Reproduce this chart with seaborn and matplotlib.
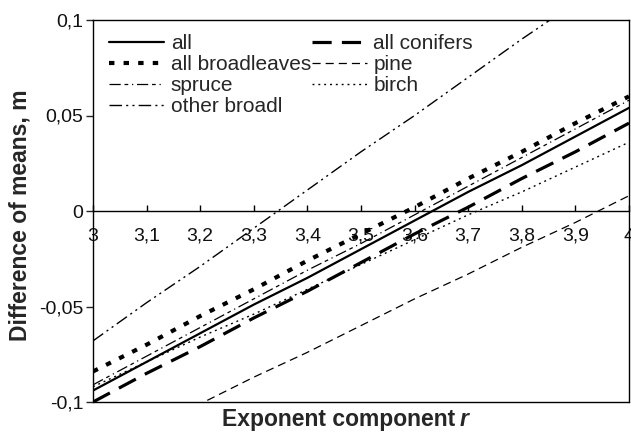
import numpy as np
import pandas as pd
import matplotlib
matplotlib.use("Agg")
import matplotlib.pyplot as plt
import seaborn as sns

sns.set_theme(style="white")
plt.rcParams['font.family'] = ['Liberation Sans', 'DejaVu Sans']

r_values = [3.0, 3.1, 3.2, 3.3, 3.4, 3.5, 3.6, 3.7, 3.8, 3.9, 4.0]
series_names = ["all", "all conifers", "all broadleaves", "pine", "spruce", "birch", "other broadl"]
all_vals = [-0.094, -0.079, -0.064, -0.049, -0.035, -0.020, -0.005, 0.010, 0.024, 0.039, 0.054]
conifers_vals = [-0.100, -0.085, -0.071, -0.056, -0.042, -0.027, -0.012, 0.002, 0.017, 0.031, 0.046]
broadleaves_vals = [-0.084, -0.070, -0.055, -0.041, -0.026, -0.012, 0.002, 0.017, 0.031, 0.046, 0.060]
pine_vals = [-0.128, -0.114, -0.101, -0.087, -0.074, -0.060, -0.046, -0.033, -0.019, -0.006, 0.008]
spruce_vals = [-0.091, -0.076, -0.061, -0.046, -0.031, -0.017, -0.002, 0.013, 0.028, 0.043, 0.058]
birch_vals = [-0.092, -0.079, -0.066, -0.054, -0.041, -0.028, -0.015, -0.002, 0.010, 0.023, 0.036]
other_vals = [-0.068, -0.048, -0.029, -0.009, 0.011, 0.031, 0.050, 0.070, 0.090, 0.109, 0.129]

x_tick_labels = ["3", "3,1", "3,2", "3,3", "3,4", "3,5", "3,6", "3,7", "3,8", "3,9", "4"]
y_ticks = [-0.1, -0.05, 0, 0.05, 0.1]
y_tick_labels = ["-0,1", "-0,05", "0", "0,05", "0,1"]

series_vals = [all_vals, conifers_vals, broadleaves_vals, pine_vals, spruce_vals, birch_vals, other_vals]
df = pd.DataFrame({"r": np.tile(r_values, len(series_names)),
                   "value": np.concatenate(series_vals),
                   "series": np.repeat(series_names, len(r_values))})

styles = {
    "all": dict(lw=1.6, dashes=None),
    "all conifers": dict(lw=2.3, dashes=(6, 3.2)),
    "all broadleaves": dict(lw=3.0, dashes=(1.3, 2.2)),
    "pine": dict(lw=0.9, dashes=(6.5, 4)),
    "spruce": dict(lw=0.9, dashes=(9, 3, 3, 3, 1, 3)),
    "birch": dict(lw=1.0, dashes=(1.4, 2.8)),
    "other broadl": dict(lw=1.0, dashes=(9, 3, 1.5, 3, 1.5, 3)),
}

W, H = 631, 433
fig = plt.figure(figsize=(W / 100, H / 100), dpi=100)
ax = fig.add_axes([93 / W, 1 - 402 / H, (629 - 93) / W, (402 - 20) / H])

for name in series_names:
    sub = df[df["series"] == name]
    st = styles[name]
    sns.lineplot(data=sub, x="r", y="value", ax=ax, color="black",
                 linewidth=st["lw"], label=name)
    ln = ax.lines[-1]
    if st["dashes"] is not None:
        ln.set_dashes(st["dashes"])
    ln.set_dash_capstyle("butt")

for sp in ax.spines.values():
    sp.set_color("black")
    sp.set_linewidth(1.0)
ax.spines["bottom"].set_position(("data", 0))
ax.axhline(-0.1, color="black", lw=1.0, clip_on=False, zorder=5)

ax.set_xlim(3, 4)
ax.set_ylim(-0.1, 0.1)
ax.set_yticks(y_ticks)
ax.set_yticklabels(y_tick_labels, fontsize=14, color="#111111")
ax.tick_params(axis="y", direction="out", length=5, width=1, left=True, pad=2)
ax.set_xticks(r_values)
ax.set_xticklabels(x_tick_labels, fontsize=14, color="#111111")
ax.tick_params(axis="x", direction="in", length=4.5, width=1, bottom=True, pad=12,
               labelsize=14, color="black")
ax.set_xlabel("")
ax.set_ylabel("")

fig.text(20 / W, 1 - 215 / H, "Difference of means, m", fontsize=16.5, fontweight="bold",
         rotation=90, ha="center", va="center")
fig.text(455 / W, 7 / H, "Exponent component", fontsize=16.5, fontweight="bold",
         ha="right", va="baseline")
fig.text(460 / W, 7 / H, "r", fontsize=16.5, fontweight="bold", style="italic",
         ha="left", va="baseline")

handles, labels = ax.get_legend_handles_labels()
order = ["all", "all broadleaves", "spruce", "other broadl", "all conifers", "pine", "birch"]
hmap = dict(zip(labels, handles))
leg = ax.legend([hmap[k] for k in order], order, loc="upper left", ncol=2, frameon=False,
                fontsize=15, handlelength=2.65, handletextpad=0.3, columnspacing=0.05,
                labelspacing=0.1, borderaxespad=0.0, borderpad=0.55,
                bbox_to_anchor=(0.009, 0.993))

fig.savefig("out.png", dpi=100)
